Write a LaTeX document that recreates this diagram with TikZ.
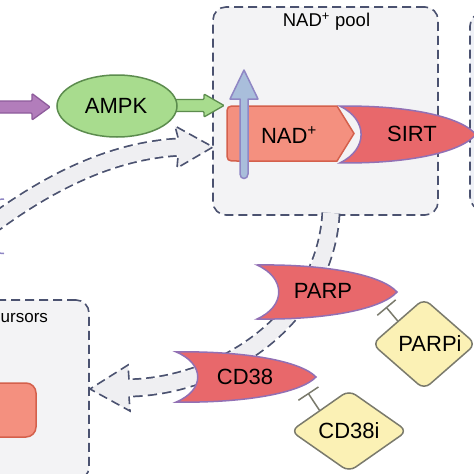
\documentclass[tikz,border=0pt]{standalone}
\usepackage{fontspec}
\setmainfont{Liberation Sans}
\usetikzlibrary{shapes.geometric,arrows.meta,calc}
\definecolor{boxedge}{HTML}{4B5270}
\definecolor{boxfill}{HTML}{F3F3F5}
\definecolor{rboxfill}{HTML}{EEF0F6}
\definecolor{widefill}{HTML}{EFEFF2}
\definecolor{enzfillc}{HTML}{E8686B}
\definecolor{enzedge}{HTML}{9270B4}
\definecolor{nadfill}{HTML}{F4907F}
\definecolor{nadedge}{HTML}{D4604C}
\definecolor{ampkfill}{HTML}{A8DC8E}
\definecolor{ampkedge}{HTML}{5C8C4E}
\definecolor{purfill}{HTML}{B27DBB}
\definecolor{puredge}{HTML}{8E5C9C}
\definecolor{bluefill}{HTML}{A9BEDB}
\definecolor{blueedge}{HTML}{8F86C4}
\definecolor{inhfill}{HTML}{FBF1B5}
\definecolor{inhedge}{HTML}{7A7A6C}
\begin{document}
\begin{tikzpicture}[x=1pt,y=-1pt,
  poolbox/.style={draw=boxedge, fill=boxfill, line width=1.6pt, dash pattern=on 9pt off 5pt, rounded corners=13pt, inner sep=0pt},
  rbox/.style={poolbox, fill=rboxfill},
  lbl/.style={font=\fontsize{22}{24}\selectfont, inner sep=0pt, anchor=base},
  smalllbl/.style={font=\fontsize{18.5}{20}\selectfont, inner sep=0pt, anchor=base},
  inhib/.style={diamond, draw=inhedge, fill=inhfill, line width=1.5pt, rounded corners=8pt, inner sep=0pt, font=\fontsize{22}{24}\selectfont},
  enzfill/.style={fill=enzfillc, draw=enzedge, line width=1.5pt},
  wideedge/.style={draw=boxedge, line width=19pt, dash pattern=on 9pt off 5pt},
  widecore/.style={draw=widefill, line width=15.5pt},
  widehead/.style={fill=widefill, draw=boxedge, line width=1.6pt, dash pattern=on 9pt off 5pt},
  tbar/.style={draw=inhedge, line width=1.5pt, -{Bar[width=24pt, line width=1.5pt]}},
  ampkstyle/.style={ellipse, draw=ampkedge, fill=ampkfill, line width=1.5pt, minimum width=120pt, minimum height=62pt, inner sep=0pt},
  precitem/.style={draw=nadedge, fill=nadfill, line width=1.5pt, rounded corners=10pt, minimum width=72pt, minimum height=54pt, inner sep=0pt},
  enz/.pic={\path[enzfill] (0,-27) .. controls (70,-28) and (125,-17) .. (140,0) .. controls (125,17) and (70,28) .. (0,27) .. controls (29,14) and (29,-14) .. (0,-27) -- cycle;}
]
\useasboundingbox (0,0) rectangle (474,474);
\fill[white] (0,0) rectangle (474,474);

% boxes
\node[rbox, minimum width=80pt, minimum height=197pt] (rightbox) at (510,111.5) {};
\node[poolbox, minimum width=225pt, minimum height=208pt] (pool) at (325.5,111) {};
\node[smalllbl] (poollabel) at (326.5,26.5) {NAD\textsuperscript{+} pool};
\node[poolbox, minimum width=170pt, minimum height=180pt] (prec) at (4,390) {};
\node[smalllbl, anchor=base west, font=\fontsize{17}{19}\selectfont] (preclabel) at (0.5,322) {ursors};
\node[precitem] (precnode) at (0,410) {};

% wide dashed arrow 1 (from left into pool)
\coordinate (w1start) at (-10,226);
\coordinate (w1base) at (181,147);
\coordinate (w1tip) at (213,147);
\draw[wideedge] (w1start) .. controls (45,185) and (110,150) .. (w1base);
\draw[widecore] (w1start) .. controls (45,185) and (110,150) .. (w1base);
\path[widehead] (178,137.5) -- (175,126) -- (w1tip) -- (177,168) -- (178,156.5);

% wide dashed arrow 2 (from pool down to precursors)
\coordinate (w2start) at (331,213);
\coordinate (w2base) at (125,388);
\coordinate (w2tip) at (90,389);
\draw[wideedge] (w2start) .. controls (325,320) and (220,388) .. (w2base);
\draw[widecore] (w2start) .. controls (325,320) and (220,388) .. (w2base);
\path[widehead] (129,379.5) -- (128,365) -- (w2tip) -- (130,411) -- (129,396.5);

% purple block arrow
\draw[fill=purfill, draw=puredge, line width=1.3pt, rounded corners=1pt]
  (-5,101) -- (32,101) -- (32,93.5) -- (50,107) -- (32,120) -- (32,113) -- (-5,113) -- cycle;
% green block arrow
\draw[fill=ampkfill, draw=ampkedge, line width=1.3pt, rounded corners=1pt]
  (170,99.5) -- (204,99.5) -- (204,94) -- (224,105.5) -- (204,117) -- (204,111.5) -- (170,111.5) -- cycle;
\node[ampkstyle] (ampk) at (117,106) {};
\node[lbl] (ampktext) at (116,113) {AMPK};

% NAD+ shape
\draw[fill=nadfill, draw=nadedge, line width=1.5pt]
  (237,106) -- (337,106) -- (354,133.5) -- (337,161) -- (237,161)
  .. controls (227,161) .. (227,151) -- (227,116) .. controls (227,106) .. (237,106) -- cycle;
\node[lbl] (nadtext) at (289,143) {NAD\textsuperscript{+}};

% SIRT
\path (340,134.5) pic[xscale=0.97, yscale=1.05] {enz};
\node[lbl] (sirt) at (412,141.5) {SIRT};

% blue up arrow
\draw[fill=bluefill, draw=blueedge, line width=1.5pt, line join=round]
  (240,174) -- (240,99) -- (230,99) -- (244,70) -- (258,99) -- (248,99) -- (248,174)
  .. controls (248,180) and (240,180) .. (240,174) -- cycle;

% PARP and CD38
\path (257,292) pic {enz};
\node[lbl] (parp) at (323,298.5) {PARP};
\path (176,377) pic[yscale=0.93] {enz};
\node[lbl] (cd38) at (245,384.5) {CD38};

% inhibitors
\node[inhib, minimum width=104pt, minimum height=81pt] (parpi) at (424,344) {\hspace*{12pt}PARPi};
\node[inhib, minimum width=117pt, minimum height=82pt] (cd38i) at (349,431) {CD38i};
\coordinate (parpbar) at (386,307);
\coordinate (cd38bar) at (308,393);
\draw[tbar] (parpi.north west) -- (parpbar);
\draw[tbar] (cd38i.north west) -- (cd38bar);

% small fragments at left edge
\draw[blueedge, line width=1.5pt] (-2,199.5) -- (4,199);
\draw[blueedge, line width=1.5pt] (-2,253) -- (4,253.5);
\end{tikzpicture}
\end{document}
